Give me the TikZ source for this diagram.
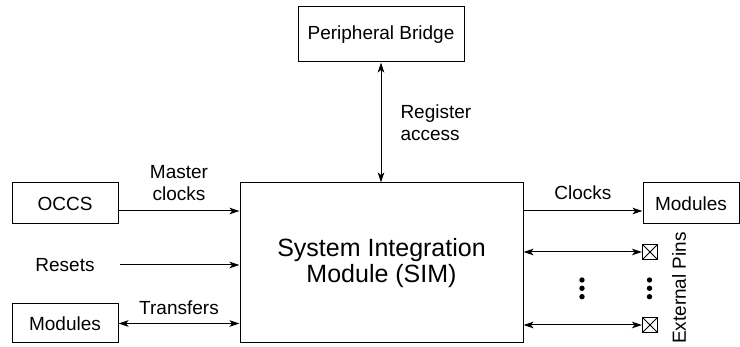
\documentclass[tikz,border=0pt]{standalone}
\usepackage{fontspec}
\setmainfont{Liberation Sans}
\usetikzlibrary{arrows.meta, positioning, calc}
\tikzset{
>={Stealth[length=10pt, width=6.5pt, inset=2.5pt]}, % arrow heads
every picture/.style={line width=1pt}, % lines of the whole picture
block/.style={draw, minimum height=41pt, font=\fontsize{19}{22}\selectfont}, % boxes
sigtext/.style={inner sep=0pt, align=center, font=\fontsize{19}{22}\selectfont}, % signal names
pinbox/.style={draw, minimum size=15pt, inner sep=0pt,
  path picture={\draw[line width=0.8pt] (path picture bounding box.north west) -- (path picture bounding box.south east)
  (path picture bounding box.south west) -- (path picture bounding box.north east);}}, % external pin
}

\begin{document}
\begin{tikzpicture}[x=1pt, y=-1pt]
    \useasboundingbox (0,0) rectangle (740,347);
    % boxes
    \node[block, minimum width=166pt, minimum height=55pt] (bridge) at (381,34.5) {Peripheral Bridge};
    \node[draw, minimum width=283pt, minimum height=160pt, align=center, font=\fontsize{25}{26}\selectfont] (sim) at (381.5,263) {System Integration\\Module (SIM)};
    \node[block, minimum width=106pt] (occs) at (65,203.5) {OCCS};
    \node[block, minimum width=106pt, minimum height=39pt] (modl) at (65,323.5) {Modules};
    \node[block, minimum width=96pt] (modr) at (691,203.5) {Modules};
    \node[sigtext] (resets) at (65,265) {Resets};
    \node[pinbox] (pin1) at (650,252) {};
    \node[pinbox] (pin2) at (650,325) {};
    \coordinate (rstart) at (120,265);
    % connectors
    \draw[<->] (bridge.south) -- node[sigtext, right=19pt, align=left] (regacc) {Register\\access} (bridge.south |- sim.north);
    \draw[->] ([yshift=-7.5pt]occs.east) -- node[sigtext, above=10pt] (mclk) {Master\\clocks} ([yshift=-7.5pt]occs.east -| sim.west);
    \draw[->] (rstart) -- (rstart -| sim.west);
    \draw[<->] (modl.east) -- node[sigtext, above=8pt] (xfer) {Transfers} (modl.east -| sim.west);
    \draw[->] ([yshift=-7.5pt]modr.west -| sim.east) -- node[sigtext, above=11pt] (clk) {Clocks} ([yshift=-7.5pt]modr.west);
    \draw[<->] (pin1 -| sim.east) -- (pin1.west);
    \draw[<->] (pin2 -| sim.east) -- (pin2.west);
    % dots
    \foreach \y in {280,288.3,296.7} {
      \fill (582,\y) circle (2.7pt);
      \fill (649.5,\y) circle (2.7pt);
    }
    \node[sigtext, rotate=90] (extpins) at (679,288) {External Pins};
  \end{tikzpicture}
\end{document}
